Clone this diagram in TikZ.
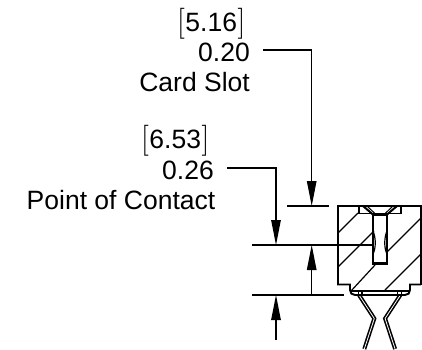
\documentclass[tikz,border=0pt]{standalone}
\usepackage{fontspec}
\setsansfont{Liberation Sans}
\usetikzlibrary{arrows.meta}
\newcommand{\lbk}{{\rmfamily\fontsize{31}{31}\selectfont[}}
\newcommand{\rbk}{{\rmfamily\fontsize{31}{31}\selectfont]}}
\tikzset{
  x=1pt,y=-1pt,
  dimtext/.style={inner sep=0pt,font=\sffamily\fontsize{26.5}{26.5}\selectfont,text=black,anchor=base east},
  dimline/.style={line width=1.2pt,black},
  dimarrow/.style={dimline,-{Triangle[length=25pt,width=9.5pt]}},
  body/.style={line width=1.9pt,black,line join=miter},
  hatch/.style={line width=1.2pt,black},
  pinouter/.style={line width=4pt,black,line join=miter},
  pininner/.style={line width=0.8pt,white,line join=miter}
}
\begin{document}
\begin{tikzpicture}
\useasboundingbox (0,0) rectangle (422,349);
% labels
\node[dimtext] (a1) at (245.5,31) {\lbk\kern0.5pt 5.16\kern0.5pt\rbk};
\node[dimtext] (a2) at (250,61.5) {0.20};
\node[dimtext] (a3) at (250,91.5) {Card Slot};
\node[dimtext] (b1) at (209.5,148) {\lbk\kern0.5pt 6.53\kern0.5pt\rbk};
\node[dimtext] (b2) at (214,179.5) {0.26};
\node[dimtext] (b3) at (215.5,209) {Point of Contact};
% extension lines
\coordinate (l1) at (263,50);   \coordinate (c1) at (311.7,50);
\coordinate (l2) at (227,168);  \coordinate (c2) at (276,168);
\coordinate (t1) at (311.7,206); \coordinate (t2) at (276,245);
\coordinate (t3) at (311.7,245); \coordinate (t4) at (276,295);
\coordinate (e3) at (311.7,295); \coordinate (e4) at (276,340);
\draw[dimline] (287,206) -- (329,206);
\draw[dimline] (252,245) -- (373,245);
\draw[dimline] (252,295) -- (344,295);
\draw[dimarrow] (l1) -- (c1) -- (t1);
\draw[dimarrow] (l2) -- (c2) -- (t2);
\draw[dimarrow] (e3) -- (t3);
\draw[dimarrow] (e4) -- (t4);
% hatching
\draw[hatch] (338,233) -- (358,213);
\draw[hatch] (338,267) -- (374,231);
\draw[hatch] (351,291) -- (375,265);
\draw[hatch] (387,252) -- (421,218);
\draw[hatch] (385,290) -- (421,254);
% pins
\draw[pinouter] (359,295) -- (374.3,318.5) -- (364.3,349);
\draw[pininner] (359,295) -- (374.3,318.5) -- (364.3,349);
\draw[pinouter] (400.4,295) -- (385.1,318.5) -- (395.1,349);
\draw[pininner] (400.4,295) -- (385.1,318.5) -- (395.1,349);
% body
\draw[body] (359,206) -- (338,206) -- (338,284.5) -- (350,284.5) -- (350,290)
  .. controls (350,293) and (352,295) .. (355,295) -- (405,295)
  .. controls (408,295) and (410,293) .. (410,290) -- (410,284.5) -- (421,284.5);
\draw[body] (421,284.5) -- (421,206) -- (359,206);
\draw[line width=1.2pt] (351,291) -- (409,291);
\draw[line width=1.2pt] (358.3,291) -- (358.3,295) (362,291) -- (362,295) (397.4,291) -- (397.4,295) (401.1,291) -- (401.1,295);
\draw[body] (359,206) -- (359,213.5) -- (373,213.5);
\draw[body] (387,213.5) -- (401,213.5) -- (401,206);
% slot
\draw[line width=2.2pt] (373,214.5) -- (373,263.5) -- (387,263.5) -- (387,214.5) -- cycle;
\draw[line width=2pt] (363,206) -- (373,214.5);
\draw[line width=2pt] (397,206) -- (387,214.5);
\draw[line width=1pt] (367,206) -- (376,214.5);
\draw[line width=1pt] (393,206) -- (384,214.5);
% contact bumps
\draw[line width=1.2pt] (373,231) .. controls (376,238) and (376,248) .. (373,254);
\draw[line width=1.2pt] (387,231) .. controls (384,238) and (384,248) .. (387,254);
\end{tikzpicture}
\end{document}
